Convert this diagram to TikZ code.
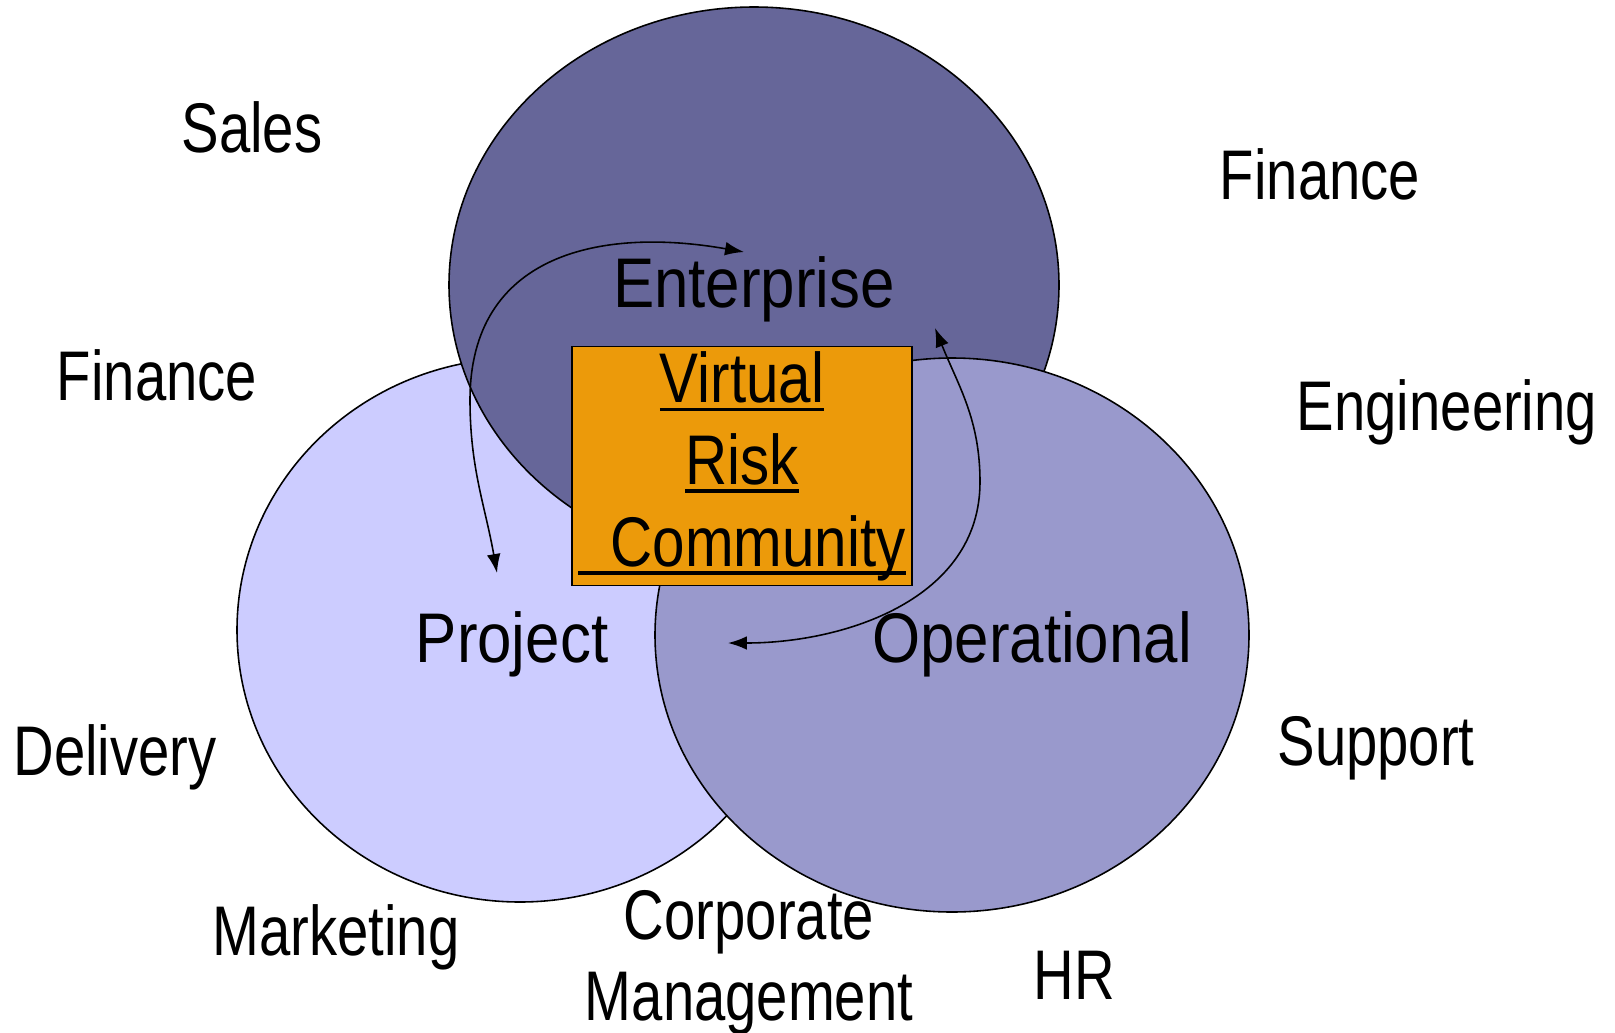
\documentclass[tikz,border=0pt]{standalone}
\usepackage{fontspec}
\setmainfont[FakeStretch=0.80]{Liberation Sans}
\newfontfamily\vrcfont[FakeStretch=0.83]{Liberation Sans}
\newfontfamily\areafont[FakeStretch=0.88]{Liberation Sans}
\usepackage{tikz}
\usetikzlibrary{arrows.meta}
\usetikzlibrary{shapes.geometric}
\tikzset{>={Latex[length=5.4pt,width=3.9pt]}}
\definecolor{entcol}{HTML}{666699}
\definecolor{projcol}{HTML}{CCCCFF}
\definecolor{opcol}{HTML}{9999CC}
\definecolor{vrccol}{HTML}{EC9A0A}
\tikzstyle{area} = [draw, ellipse, inner sep=0pt, line width=0.45pt]
\tikzstyle{vrcbox} = [draw, fill=vrccol, rectangle, align=center,
    minimum width=34mm, minimum height=23.9mm, inner sep=0pt,
    font=\vrcfont\fontsize{20}{23.3}\selectfont]
\tikzstyle{dept} = [anchor=base, inner sep=0pt]
\tikzstyle{areaname} = [dept, font=\areafont\fontsize{20}{24}\selectfont]
\tikzstyle{tip} = [coordinate]
\newcommand{\riskul}[1]{\setbox0\hbox{#1}\rlap{\rule[-2.4pt]{\wd0}{0.9pt}}\box0}

\begin{document}
\begin{tikzpicture}[x=0.1mm, y=0.1mm, font=\fontsize{20}{23.3}\selectfont]
    \useasboundingbox (0,0) rectangle (1615,-1032);
    % We start by placing the three areas
    \node [area, fill=projcol, minimum width=56.6mm, minimum height=54.4mm] (project) at (520,-630) {};
    \node [area, fill=entcol, minimum width=61mm, minimum height=55.6mm] (enterprise) at (754,-285) {};
    \node [area, fill=opcol, minimum width=59.4mm, minimum height=55.4mm] (operational) at (952,-635) {};
    \node [vrcbox] (vrc) at (742,-466) {\riskul{Virtual}\\\riskul{Risk}\\\riskul{\ \ Community}};

    % names of the areas
    \node [areaname] (entname) at (754,-307) {Enterprise};
    \node [areaname] (projname) at (512,-662) {Project};
    \node [areaname] (opname) at (1032,-662) {Operational};

    % the departments round the areas
    \node [dept] (sales) at (252,-152) {Sales};
    \node [dept] (finleft) at (157,-400) {Finance};
    \node [dept] (delivery) at (115,-775) {Delivery};
    \node [dept] (marketing) at (336,-955) {Marketing};
    \node [dept] (corporate) at (749,-939) {Corporate};
    \node [dept] (management) at (749,-1020) {Management};
    \node [dept] (hr) at (1074,-999) {HR};
    \node [dept] (support) at (1376,-765) {Support};
    \node [dept] (engineering) at (1447,-430) {Engineering};
    \node [dept] (finright) at (1320,-199) {Finance};

    % Once the areas are placed, the exchanges between them
    \coordinate [tip] (projtip) at (497,-573);
    \coordinate [tip] (enttip) at (744,-252);
    \coordinate [tip] (optip) at (728,-643);
    \coordinate [tip] (enttipb) at (935,-328);
    \draw [<->, line width=0.45pt] (projtip) to[out=100,in=270] (470,-400)
        to[out=90,in=170,looseness=1.2] (enttip);
    \draw [<->, line width=0.45pt] (optip) to[out=0,in=270] (980,-482)
        to[out=90,in=-68] (enttipb);
\end{tikzpicture}
\end{document}
